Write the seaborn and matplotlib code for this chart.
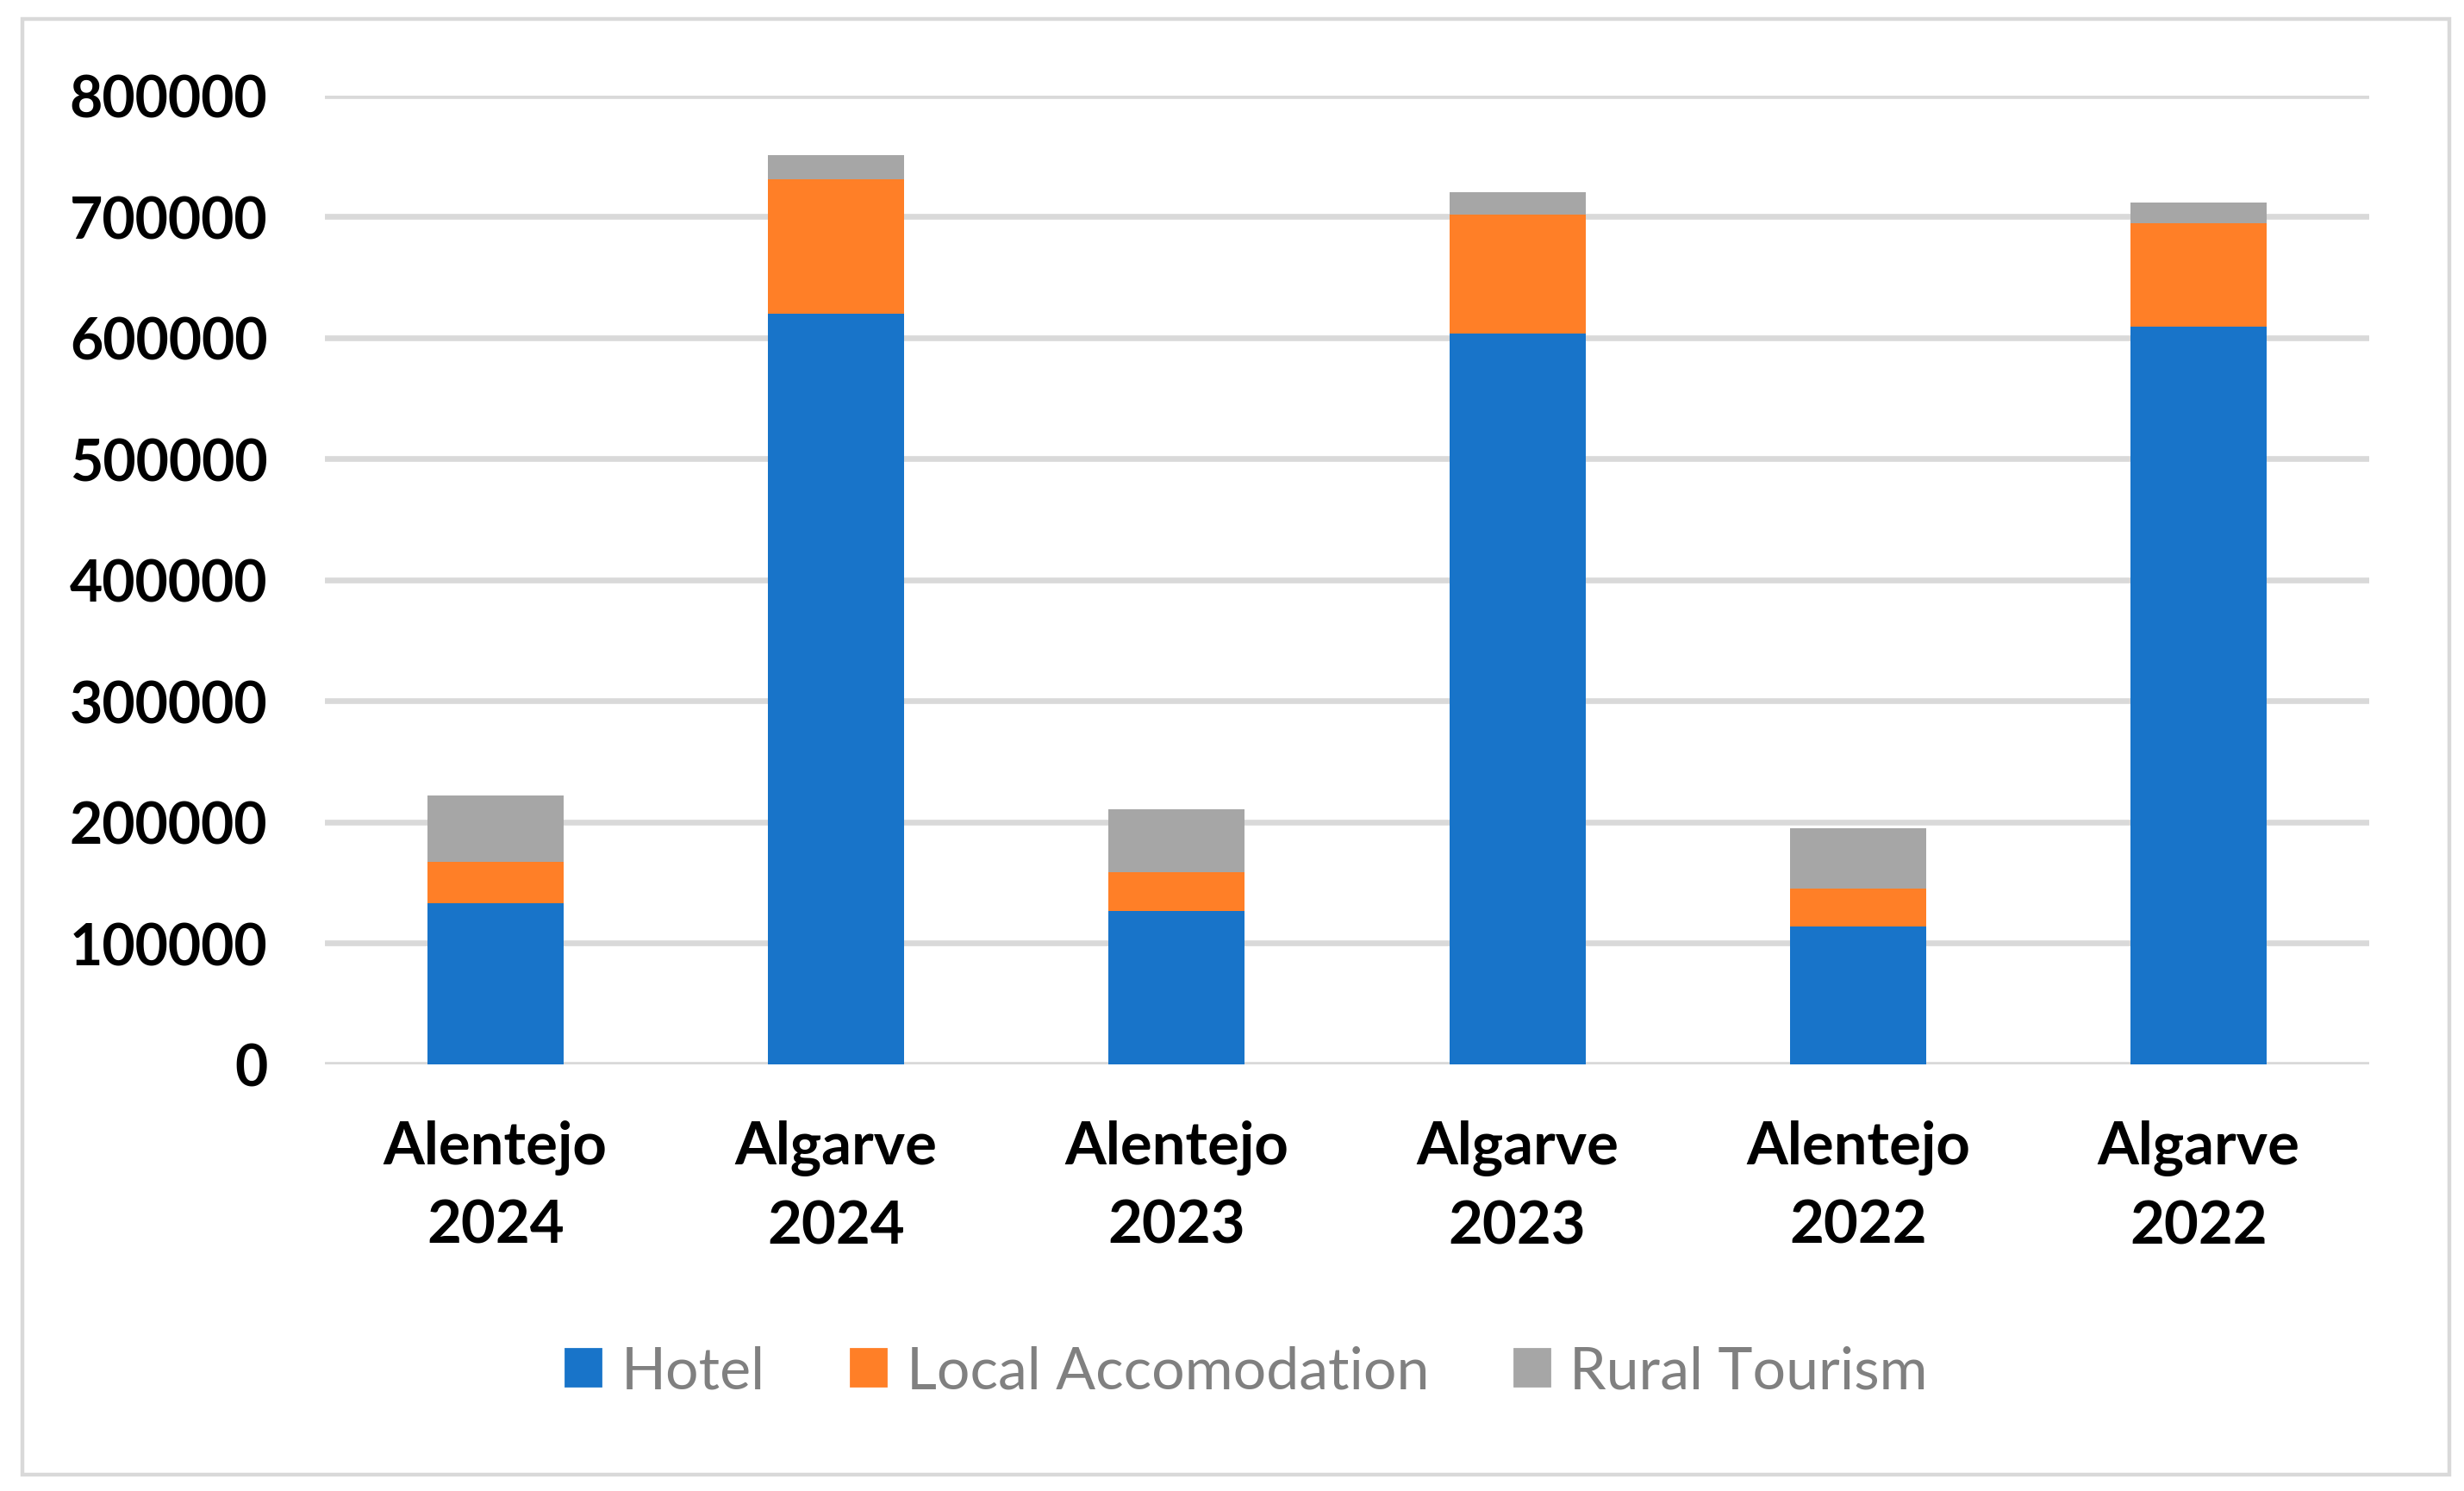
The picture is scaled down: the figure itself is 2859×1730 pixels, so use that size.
import matplotlib
matplotlib.use("Agg")
import matplotlib.pyplot as plt
import matplotlib.patches as mpatches
import seaborn as sns
import numpy as np

categories = ["Alentejo\n2024", "Algarve\n2024", "Alentejo\n2023",
              "Algarve\n2023", "Alentejo\n2022", "Algarve\n2022"]
hotel = [133200, 620100, 126800, 603600, 113800, 609500]
local_accom = [34300, 110900, 31900, 97900, 31300, 85000]
rural = [54800, 20100, 51900, 18900, 50200, 17100]
series_names = ["Hotel", "Local Accomodation", "Rural Tourism"]
colors = ["#1874C9", "#FF7F27", "#A6A6A6"]
yticks = [0, 100000, 200000, 300000, 400000, 500000, 600000, 700000, 800000]

sns.set_theme(style="white")
plt.rcParams['font.family'] = ['Lato', 'DejaVu Sans']

fig = plt.figure(figsize=(14.295, 8.655), dpi=200)
ax = fig.add_axes([0.1319, 0.2860, 0.8296, 0.6493])

h = np.array(hotel)
l = np.array(local_accom)
r = np.array(rural)
stacks = [h + l + r, h + l, h]
stack_colors = [colors[2], colors[1], colors[0]]
for vals, c in zip(stacks, stack_colors):
    sns.barplot(x=categories, y=vals, color=c, width=0.4, ax=ax,
                saturation=1, linewidth=0, zorder=3)

ax.set_ylim(0, 800000)
ax.set_xlim(-0.5, 5.5)
ax.set_yticks(yticks)
ax.set_yticklabels([str(v) for v in yticks])
for s in ax.spines.values():
    s.set_visible(False)
ax.grid(axis='y', color='#D9D9D9', linewidth=2.4, zorder=0)
ax.grid(axis='x', visible=False)
ax.set_axisbelow(True)
ax.tick_params(axis='y', length=0, labelsize=23.8, labelcolor='black', pad=24)
ax.tick_params(axis='x', length=0, labelsize=24.8, labelcolor='black', pad=23)
for t in ax.get_yticklabels() + ax.get_xticklabels():
    t.set_fontweight('bold')
for t in ax.get_xticklabels():
    t.set_linespacing(1.55)
ax.set_xlabel("")
ax.set_ylabel("")

handles = [mpatches.Patch(color=c, label=n) for c, n in zip(colors, series_names)]
leg = fig.legend(handles=handles, loc='center', bbox_to_anchor=(0.506, 0.080),
                 ncol=3, frameon=False, fontsize=24.5, handlelength=0.6,
                 handleheight=0.6, handletextpad=0.35, columnspacing=1.45,
                 labelcolor='#808080')

border = mpatches.Rectangle((26 / 2859, 1 - 1712 / 1731), (2842 - 26) / 2859,
                            (1712 - 23) / 1731, transform=fig.transFigure,
                            fill=False, edgecolor='#D9D9D9', linewidth=1.6)
fig.patches.append(border)

fig.savefig("out.png", dpi=200, facecolor='white')
